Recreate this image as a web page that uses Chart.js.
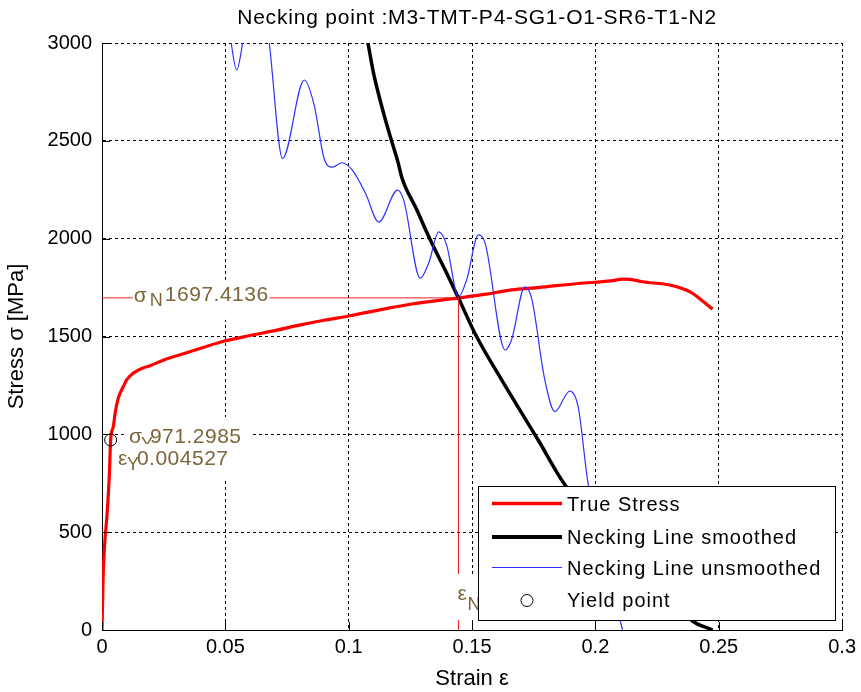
<!DOCTYPE html>
<html><head><meta charset="utf-8">
<script src="https://cdn.jsdelivr.net/npm/chart.js@4"></script>
<style>html,body{margin:0;padding:0;background:#fff}#wrap{width:861px;height:692px}</style>
</head><body><div id="wrap"><canvas id="c" width="861" height="692"></canvas></div>
<script>
const title = 'Necking point :M3-TMT-P4-SG1-O1-SR6-T1-N2';
const xLabel = 'Strain \u03b5';
const yLabel = 'Stress \u03c3 [MPa]';
const xTickValues = [0, 0.05, 0.1, 0.15, 0.2, 0.25, 0.3];
const xTickLabels = ['0', '0.05', '0.1', '0.15', '0.2', '0.25', '0.3'];
const yTickValues = [0, 500, 1000, 1500, 2000, 2500, 3000];
const yTickLabels = ['0', '500', '1000', '1500', '2000', '2500', '3000'];

const trueStrain = [0, 0.0003, 0.0005, 0.0009, 0.0012, 0.0021, 0.003, 0.0035, 0.0046, 0.0053, 0.0066, 0.0086, 0.01, 0.0126, 0.0166, 0.0194, 0.025, 0.03, 0.04, 0.05, 0.06, 0.07, 0.08, 0.09, 0.1, 0.1122, 0.125, 0.1445, 0.155, 0.166, 0.1768, 0.193, 0.2063, 0.211, 0.214, 0.219, 0.2305, 0.2386, 0.244, 0.2475];
const trueStress = [0, 180, 290, 400, 460, 600, 800, 971, 1040, 1107, 1185, 1243, 1278, 1312, 1339, 1350, 1380, 1400, 1440, 1478, 1505, 1530, 1558, 1583, 1605, 1635, 1665, 1697, 1715, 1738, 1750, 1771, 1784, 1793, 1792, 1780, 1762, 1727, 1676, 1640];

const smStrain = [0.104, 0.1078, 0.110, 0.1129, 0.1163, 0.12, 0.1216, 0.1275, 0.1331, 0.139, 0.1445, 0.1514, 0.162, 0.1768, 0.1877, 0.2, 0.215, 0.23, 0.2394, 0.2475];
const smStress = [3250, 3000, 2850, 2700, 2545, 2390, 2310, 2150, 1993, 1842, 1697, 1510, 1278, 971, 741, 565, 365, 170, 46, 0];

const unStrain = [0.049, 0.0524, 0.0546, 0.057, 0.0625, 0.0678, 0.0732, 0.082, 0.086, 0.09, 0.0933, 0.0973, 0.1014, 0.1068, 0.1122, 0.1198, 0.1223, 0.129, 0.1324, 0.1365, 0.1397, 0.1445, 0.1478, 0.1526, 0.1553, 0.1634, 0.166, 0.1714, 0.1741, 0.1795, 0.1836, 0.1896, 0.193, 0.197, 0.204, 0.211];
const unStress = [3400, 3000, 2862, 3000, 3500, 3000, 2410, 2811, 2683, 2411, 2366, 2388, 2351, 2232, 2085, 2248, 2197, 1798, 1874, 2035, 1967, 1703, 1789, 2019, 1977, 1431, 1482, 1754, 1697, 1278, 1116, 1221, 1141, 751, 360, 0];

const yieldStrain = [0.0035];
const yieldStress = [971.2985];
const neckStrain = 0.1445;
const neckStress = 1697.4136;
const legendLabels = ['True Stress', 'Necking Line smoothed', 'Necking Line unsmoothed', 'Yield point'];
const sigmaNText = '1697.4136';
const sigmaYText = '971.2985';
const epsYText = '0.004527';
const epsNText = '0.14452';

const FONT = '"Liberation Sans", Arial, Helvetica, sans-serif';
const TXT = '#7a6638';

function pts(xs, ys) { return xs.map((v, i) => ({x: v, y: ys[i]})); }

function font(ctx, size, ls) { ctx.font = size + 'px ' + FONT; ctx.letterSpacing = (ls || 0) + 'px'; }

const deco = {
  id: 'deco',
  afterDatasetsDraw(chart) {
    const {ctx, chartArea: a, scales: {x, y}} = chart;
    ctx.save();
    ctx.strokeStyle = '#000'; ctx.lineWidth = 1; ctx.setLineDash([]);
    xTickValues.forEach(v => { const px = Math.round(x.getPixelForValue(v)) + 0.5; ctx.beginPath(); ctx.moveTo(px, a.bottom); ctx.lineTo(px, a.bottom - 8); ctx.stroke(); });
    yTickValues.forEach(v => { const py = Math.round(y.getPixelForValue(v)) + 0.5; ctx.beginPath(); ctx.moveTo(a.left, py); ctx.lineTo(a.left + 8, py); ctx.stroke(); });

    ctx.textBaseline = 'alphabetic'; ctx.textAlign = 'left';
    let px0 = x.getPixelForValue(0.0125), py = y.getPixelForValue(neckStress);
    ctx.fillStyle = '#fff'; ctx.fillRect(px0, py - 18, 137, 40);
    ctx.fillStyle = TXT;
    font(ctx, 21); ctx.fillText('\u03c3', px0 + 1, py + 4);
    font(ctx, 18); ctx.fillText('N', px0 + 17, py + 8);
    font(ctx, 21, 0.5); ctx.fillText(sigmaNText, px0 + 32, py + 3);

    px0 = x.getPixelForValue(0.0105); py = y.getPixelForValue(yieldStress[0]);
    ctx.fillStyle = '#fff'; ctx.fillRect(px0 - 4, py - 23, 128, 41);
    ctx.fillStyle = TXT;
    font(ctx, 21); ctx.fillText('\u03c3', px0 + 1, py + 3);
    font(ctx, 18); ctx.fillText('Y', px0 + 13, py + 10);
    font(ctx, 21, 0.5); ctx.fillText(sigmaYText, px0 + 22, py + 3);
    ctx.fillStyle = '#fff'; ctx.fillRect(px0 - 11, py + 4, 119, 34);
    ctx.fillStyle = TXT;
    font(ctx, 21); ctx.fillText('\u03b5', px0 - 10, py + 25.5);
    font(ctx, 18); ctx.fillText('Y', px0 - 1, py + 30);
    font(ctx, 21, 0.5); ctx.fillText(epsYText, px0 + 9, py + 25.5);

    px0 = x.getPixelForValue(neckStrain); py = y.getPixelForValue(0);
    ctx.fillStyle = '#fff'; ctx.fillRect(px0 - 2, py - 56, 130, 46);
    ctx.fillStyle = TXT;
    font(ctx, 21); ctx.fillText('\u03b5', px0 - 1, py - 30);
    font(ctx, 18); ctx.fillText('N', px0 + 9, py - 20);
    font(ctx, 21, 0.5); ctx.fillText(epsNText, px0 + 22, py - 30);
    ctx.restore();
  },
  afterDraw(chart) {
    const {ctx, chartArea: a} = chart;
    ctx.save();
    ctx.fillStyle = '#000'; ctx.textAlign = 'center'; ctx.textBaseline = 'alphabetic';
    font(ctx, 21, 0.8);
    ctx.fillText(title, (a.left + a.right) / 2 + 5, 24);
    ctx.fillStyle = '#fff'; ctx.fillRect(478.5, 486.5, 357, 134);
    ctx.strokeStyle = '#000'; ctx.lineWidth = 1; ctx.strokeRect(478.5, 486.5, 357, 134);
    const rows = [510.5, 544, 574.5, 606.5];
    const ds = chart.data.datasets;
    ctx.textAlign = 'left';
    font(ctx, 20, 1);
    legendLabels.forEach((lab, i) => {
      const d = ds[i];
      const ly = rows[i] - 7;
      if (i < 3) {
        ctx.strokeStyle = d.borderColor; ctx.lineWidth = d.legendWidth;
        ctx.beginPath(); ctx.moveTo(492, ly); ctx.lineTo(562, ly); ctx.stroke();
      } else {
        ctx.strokeStyle = '#000'; ctx.lineWidth = 1;
        ctx.beginPath(); ctx.arc(527, ly + 1, 6, 0, Math.PI * 2); ctx.stroke();
      }
      ctx.fillStyle = '#000';
      ctx.fillText(lab, 567, rows[i]);
    });
    ctx.restore();
  }
};

Chart.defaults.font.family = FONT;
Chart.defaults.color = '#000';

new Chart(document.getElementById('c'), {
  type: 'scatter',
  data: {
    datasets: [
      {label: legendLabels[0], data: pts(trueStrain, trueStress), showLine: true, borderColor: '#ff0000', borderWidth: 3.2, legendWidth: 3.5, pointRadius: 0, cubicInterpolationMode: 'monotone', order: 5},
      {label: legendLabels[1], data: pts(smStrain, smStress), showLine: true, borderColor: '#000000', borderWidth: 3.5, legendWidth: 4, pointRadius: 0, cubicInterpolationMode: 'monotone', order: 4},
      {label: legendLabels[2], data: pts(unStrain, unStress), showLine: true, borderColor: '#3030ff', borderWidth: 1.2, legendWidth: 1.2, pointRadius: 0, cubicInterpolationMode: 'monotone', order: 3},
      {label: legendLabels[3], data: pts(yieldStrain, yieldStress), showLine: false, pointRadius: 6, pointBorderColor: '#000', pointBackgroundColor: 'rgba(0,0,0,0)', pointBorderWidth: 1, order: 2},
      {label: 'neckH', data: [{x: 0, y: neckStress}, {x: neckStrain, y: neckStress}], showLine: true, borderColor: '#ee2222', borderWidth: 1, pointRadius: 0, order: 1},
      {label: 'neckV', data: [{x: neckStrain, y: neckStress}, {x: neckStrain, y: 0}], showLine: true, borderColor: '#ee2222', borderWidth: 1, pointRadius: 0, order: 1}
    ]
  },
  options: {
    responsive: false,
    animation: false,
    devicePixelRatio: 1,
    layout: {padding: {top: 43, right: 16, left: 0, bottom: 0}},
    plugins: {legend: {display: false}, tooltip: {enabled: false}, title: {display: false}},
    scales: {
      x: {
        type: 'linear', min: 0, max: 0.3,
        afterBuildTicks: s => { s.ticks = xTickValues.map(v => ({value: v})); },
        afterFit: s => { s.height = 62; },
        ticks: {callback: (v, i) => xTickLabels[i], font: {size: 20}, padding: 5, maxRotation: 0, autoSkip: false},
        grid: {color: '#000', lineWidth: 1, drawTicks: false},
        border: {display: true, color: '#000', width: 1, dash: [3, 3]},
        title: {display: true, text: xLabel, font: {size: 22}, padding: {top: 0, bottom: 0}}
      },
      y: {
        type: 'linear', min: 0, max: 3000,
        afterBuildTicks: s => { s.ticks = yTickValues.map(v => ({value: v})); },
        afterFit: s => { s.width = 102; },
        ticks: {callback: (v, i) => yTickLabels[i], font: {size: 20}, padding: 10, autoSkip: false},
        grid: {color: '#000', lineWidth: 1, drawTicks: false},
        border: {display: true, color: '#000', width: 1, dash: [3, 3]},
        title: {display: true, text: yLabel, font: {size: 22}, padding: {top: 4, bottom: 0}}
      }
    }
  },
  plugins: [deco]
});
</script>
</body></html>
